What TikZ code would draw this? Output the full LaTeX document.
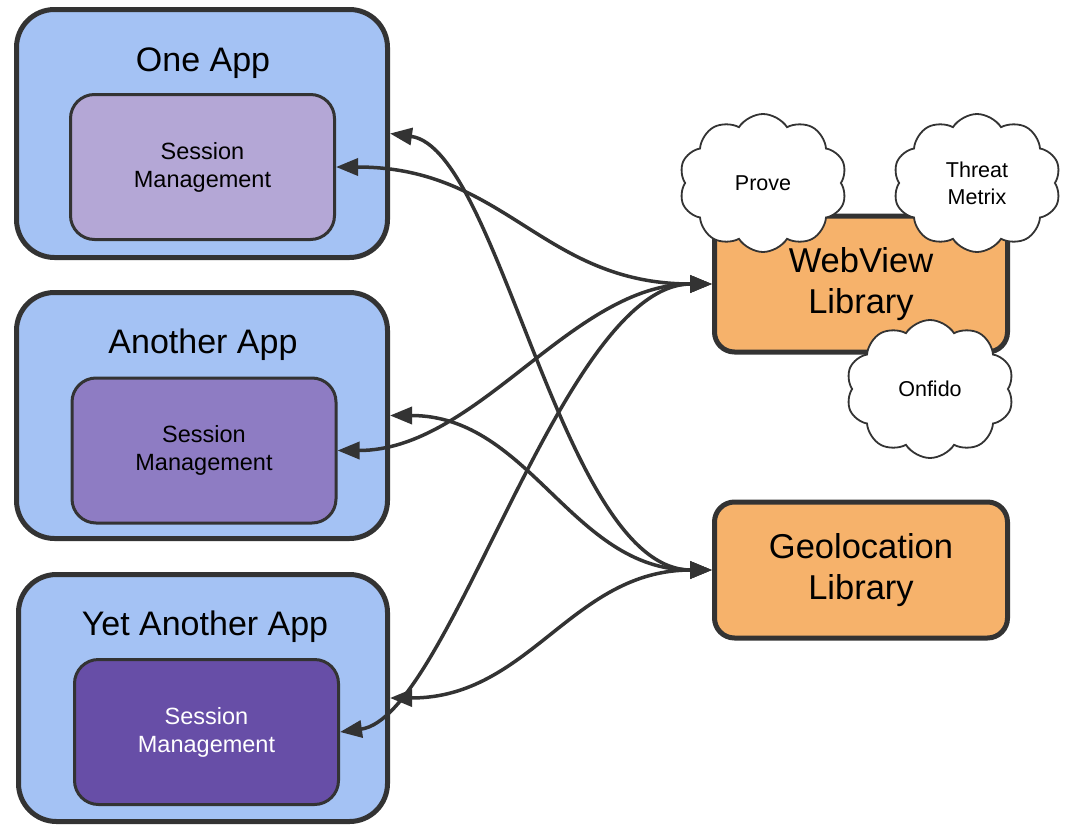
\documentclass[tikz,border=0pt]{standalone}
\usepackage{fontspec}
\setmainfont{Liberation Sans}
\usetikzlibrary{arrows.meta,shapes.symbols}
\definecolor{appblue}{HTML}{A4C2F4}
\definecolor{sessA}{HTML}{B4A7D6}
\definecolor{sessB}{HTML}{8E7CC3}
\definecolor{sessC}{HTML}{674EA7}
\definecolor{libor}{HTML}{F6B26B}
\definecolor{ink}{HTML}{333333}
\begin{document}
\begin{tikzpicture}[x=1pt,y=-1pt,
  appbox/.style={draw=ink,line width=5pt,fill=appblue,rounded corners=38pt,inner sep=0pt},
  sessbox/.style={draw=ink,line width=3pt,rounded corners=24pt,inner sep=0pt,minimum width=264pt,minimum height=145pt,align=center,font=\fontsize{23.5}{28}\selectfont},
  libbox/.style={draw=ink,line width=5pt,fill=libor,rounded corners=20pt,inner sep=0pt,minimum width=293pt,minimum height=136pt,align=center,font=\fontsize{34.5}{41}\selectfont},
  apptitle/.style={anchor=base,font=\fontsize{34}{40}\selectfont},
  cloudbox/.style={cloud,cloud puffs=10,cloud puff arc=115,draw=ink,line width=1.8pt,fill=white,minimum width=168pt,minimum height=138pt,inner sep=0pt,align=center,font=\fontsize{21.5}{27}\selectfont},
  conn/.style={draw=ink,line width=3.5pt,{Triangle[length=22pt,width=17pt]}-{Triangle[length=22pt,width=17pt]}}
]
\useasboundingbox (0,0) rectangle (1068,827);

% apps
\node[appbox,minimum width=371pt,minimum height=248pt] (app1) at (202,133.5) {};
\node[appbox,minimum width=371pt,minimum height=246pt] (app2) at (202,415.5) {};
\node[appbox,minimum width=369pt,minimum height=247pt] (app3) at (203,698) {};
\node[apptitle] (t1) at (203,71) {One App};
\node[apptitle] (t2) at (203,353) {Another App};
\node[apptitle] (t3) at (205,635) {Yet Another App};
\node[sessbox,fill=sessA] (s1) at (202.5,167) {\raisebox{0pt}[0pt][0pt]{}Session\\Management};
\node[sessbox,fill=sessB] (s2) at (204,450.5) {Session\\Management};
\node[sessbox,fill=sessC,text=white] (s3) at (206.5,732) {Session\\Management};

% libraries
\node[libbox] (wv) at (861,284) {WebView\\Library};
\node[libbox] (geo) at (861,570) {Geolocation\\Library};

% clouds
\node[cloudbox] (prove) at (763,183) {Prove};
\node[cloudbox] (tm) at (977,183) {Threat\\Metrix};
\node[cloudbox] (onf) at (930,389) {Onfido};

% connectors
\draw[conn] (s1.east) .. controls +(170,0) and +(-170,0) .. (wv.west);
\draw[conn] (app1.east) .. controls +(110,15) and +(-150,0) .. (geo.west);
\draw[conn] (s2.east) .. controls +(140,0) and +(-140,0) .. (wv.west);
\draw[conn] (app2.east) .. controls +(140,0) and +(-140,0) .. (geo.west);
\draw[conn] (app3.east) .. controls +(140,0) and +(-140,0) .. (geo.west);
\draw[conn] (s3.east) .. controls +(110,-15) and +(-150,0) .. (wv.west);
\end{tikzpicture}
\end{document}
